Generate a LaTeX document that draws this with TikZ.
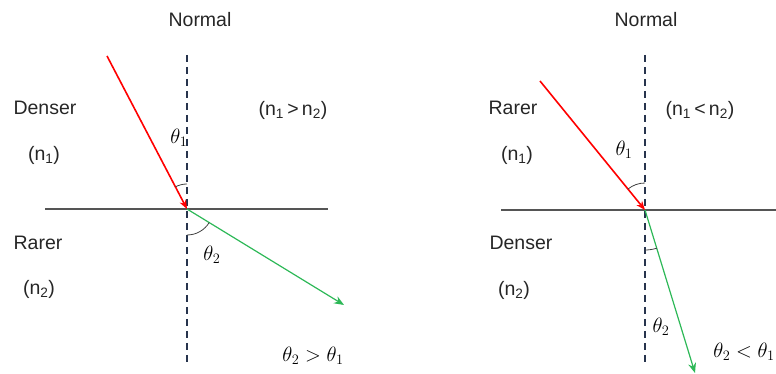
\documentclass[tikz,border=0pt]{standalone}
\usepackage[no-math]{fontspec}
\setmainfont{Liberation Sans}
\usetikzlibrary{arrows.meta}
\definecolor{navy}{HTML}{27344D}
\definecolor{raygreen}{HTML}{2DB857}
\definecolor{iface}{HTML}{555555}
\tikzset{
  lbl/.style={inner sep=0pt, font=\fontsize{19.5}{22}\selectfont, text=black!85},
  ang/.style={inner sep=0pt, font=\fontsize{22}{25}\selectfont},
  normalline/.style={draw=navy, line width=1.8pt, dash pattern=on 7.5pt off 4.5pt},
  surface/.style={draw=iface, line width=2.2pt},
  incident/.style={draw=red, line width=1.6pt, -{Stealth[length=9pt,width=7pt]}},
  refracted/.style={draw=raygreen, line width=1.2pt, -{Stealth[length=10pt,width=8pt]}},
  anglearc/.style={draw=black!75, line width=0.8pt},
}
\begin{document}
\begin{tikzpicture}[x=1pt,y=1pt]
\useasboundingbox (0,0) rectangle (776,374);
% ---------- left diagram ----------
\coordinate (O1) at (187,165);
\coordinate (N1t) at (187,319);
\coordinate (N1b) at (187,12);
\coordinate (S1l) at (45,165);
\coordinate (S1r) at (328,165);
\coordinate (I1) at (107,318);
\coordinate (R1) at (344,69);
\draw[normalline] (N1t) -- (N1b);
\draw[surface] (S1l) -- (S1r);
\draw[incident] (I1) -- (O1);
\draw[refracted] (O1) -- (R1);
\draw[anglearc] ([shift={(90:25)}]O1) arc[start angle=90,end angle=117.6,radius=25];
\draw[anglearc] ([shift={(-90:26)}]O1) arc[start angle=-90,end angle=-31.4,radius=26];
\node[lbl] (nor1) at (200,354) {Normal};
\node[lbl] (den1) at (45,266) {Denser};
\node[lbl] (n11) at (44,219) {(n\textsubscript{1})};
\node[lbl] (rar1) at (38,131) {Rarer};
\node[lbl] (n21) at (39,85) {(n\textsubscript{2})};
\node[lbl] (rel1) at (293,264) {(n\textsubscript{1}\,>\,n\textsubscript{2})};
\node[ang] (t11) at (179,236) {$\theta_1$};
\node[ang] (t21) at (212,119) {$\theta_2$};
\node[ang] (cmp1) at (313,18) {$\theta_2 > \theta_1$};
% ---------- right diagram ----------
\coordinate (O2) at (645,164);
\coordinate (N2t) at (645,319);
\coordinate (N2b) at (645,7);
\coordinate (S2l) at (501,164);
\coordinate (S2r) at (776,164);
\coordinate (I2) at (540,293);
\coordinate (R2) at (695,1);
\draw[normalline] (N2t) -- (N2b);
\draw[surface] (S2l) -- (S2r);
\draw[incident] (I2) -- (O2);
\draw[refracted] (O2) -- (R2);
\draw[anglearc] ([shift={(90:27)}]O2) arc[start angle=90,end angle=129.1,radius=27];
\draw[anglearc] ([shift={(-90:40)}]O2) arc[start angle=-90,end angle=-72.8,radius=40];
\node[lbl] (nor2) at (646,354) {Normal};
\node[lbl] (rar2) at (513,266) {Rarer};
\node[lbl] (n12) at (517,219) {(n\textsubscript{1})};
\node[lbl] (den2) at (521,131) {Denser};
\node[lbl] (n22) at (514,84) {(n\textsubscript{2})};
\node[lbl] (rel2) at (700,264) {(n\textsubscript{1}\,<\,n\textsubscript{2})};
\node[ang] (t12) at (624,224) {$\theta_1$};
\node[ang] (t22) at (661,47) {$\theta_2$};
\node[ang] (cmp2) at (744,22) {$\theta_2 < \theta_1$};
\end{tikzpicture}
\end{document}
